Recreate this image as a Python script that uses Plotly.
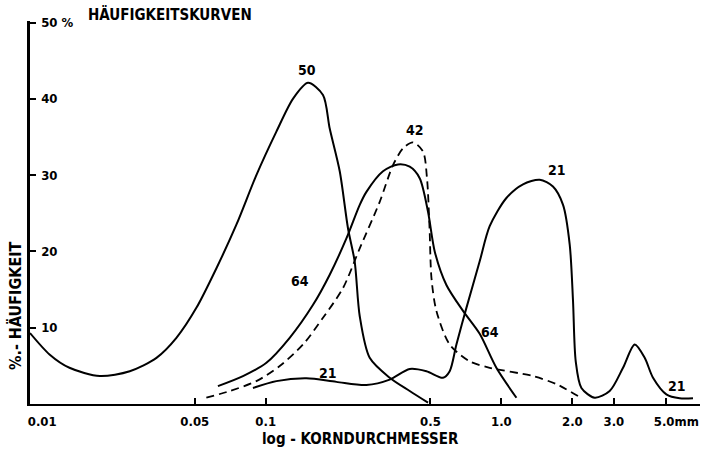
import math
import plotly.graph_objects as go

# ---- data ----
x50 = [0.0100, 0.0121, 0.0147, 0.0198, 0.0265, 0.0344, 0.0418, 0.0508, 0.0618, 0.0751,
       0.0913, 0.1110, 0.1305, 0.1512, 0.1750, 0.1869, 0.2061, 0.2235, 0.2385, 0.2506,
       0.2762, 0.3358, 0.4083, 0.4883]
y50 = [9.3, 6.5, 4.75, 3.66, 4.3, 6.05, 8.67, 12.6, 17.8, 23.5,
       30.0, 35.7, 40.0, 42.1, 40.5, 36.1, 30.5, 23.0, 18.7, 11.5,
       6.05, 3.44, 1.7, 0.17]

x64 = [0.0627, 0.0801, 0.1007, 0.1264, 0.1588, 0.1869, 0.2200, 0.2506, 0.2675, 0.3145,
       0.3641, 0.4083, 0.4501, 0.4883, 0.5212, 0.5843, 0.6874, 0.8089, 0.952, 1.158]
y64 = [2.35, 3.66, 5.4, 8.67, 13.0, 16.95, 21.7, 26.1, 27.8, 30.5,
       31.4, 31.1, 29.6, 25.2, 20.0, 15.6, 12.2, 9.2, 4.75, 0.82]

x42 = [0.056, 0.0704, 0.0913, 0.1147, 0.144, 0.175, 0.2128, 0.2506, 0.3046, 0.3467,
       0.3824, 0.4216, 0.4649, 0.4834, 0.4957, 0.505, 0.530, 0.6034, 0.7334, 0.8918,
       1.362, 1.712, 2.113]
y42 = [0.82, 1.7, 3.0, 4.97, 7.8, 11.3, 15.2, 20.4, 26.5, 31.3,
       33.5, 34.3, 33.1, 29.6, 23.0, 16.5, 12.2, 7.8, 5.6, 4.75,
       3.66, 2.6, 1.05]

x21 = [0.0883, 0.111, 0.1489, 0.1995, 0.2675, 0.3358, 0.4083, 0.4807, 0.5652, 0.6034,
       0.6444, 0.7105, 0.8089, 0.8918, 1.050, 1.235, 1.454, 1.655, 1.826, 1.949,
       2.013, 2.067, 2.185, 2.488, 2.880, 3.281, 3.678, 4.055, 4.398, 5.01,
       5.706, 6.5]
y21 = [2.1, 3.0, 3.36, 2.9, 2.5, 3.2, 4.6, 4.3, 3.44, 4.3,
       7.8, 12.6, 18.7, 23.3, 27.0, 28.8, 29.4, 28.5, 26.1, 20.9,
       13.5, 5.6, 2.1, 0.82, 1.7, 4.75, 7.8, 6.05, 3.44, 1.27,
       0.75, 0.75]

x_tickvals = [0.01, 0.05, 0.1, 0.5, 1.0, 2.0, 3.0, 5.0]
x_ticktext = ["\u00a0\u00a0\u00a0\u00a0\u00a0\u00a00.01", "0.05", "0.1", "0.5", "1.0",
              "2.0", "3.0", "\u00a0\u00a0\u00a0\u00a0\u00a05.0mm"]
y_tickvals = [10, 20, 30, 40, 50]
y_ticktext = ["10", "20", "30", "40", "50 %"]

curve_labels = ["50", "42", "64", "64", "21", "21", "21"]
label_x = [0.150, 0.4285, 0.1394, 0.8918, 0.1832, 1.717, 5.54]
label_y = [43.8, 35.9, 16.1, 9.4, 4.1, 30.7, 2.4]

FONT = "DejaVu Sans Condensed, Liberation Sans Narrow, sans-serif"
W, H = 709, 449
ML, MR, MT, MB = 30, 9, 21, 45
PW, PH = W - ML - MR, H - MT - MB
TICKLEN = 6


def px_x(p):
    return (p - ML) / PW


def px_y(p):
    return 1 - (p - MT) / PH


fig = go.Figure()
line_style = dict(color="black", width=2, shape="spline", smoothing=0.8)
fig.add_trace(go.Scatter(x=x50, y=y50, mode="lines", line=line_style, name="50"))
fig.add_trace(go.Scatter(x=x64, y=y64, mode="lines", line=line_style, name="64"))
fig.add_trace(go.Scatter(x=x21, y=y21, mode="lines", line=line_style, name="21"))
fig.add_trace(go.Scatter(x=x42, y=y42, mode="lines",
                         line=dict(color="black", width=1.8, shape="spline", smoothing=0.8,
                                   dash="8px,5px"), name="42"))

lab_font = dict(family=FONT, size=14, color="black", weight="bold")
for t, lx, ly in zip(curve_labels, label_x, label_y):
    fig.add_annotation(x=math.log10(lx), y=ly, xref="x", yref="y", text=t,
                       showarrow=False, font=lab_font)

# chart title
fig.add_annotation(x=px_x(170), y=px_y(15), xref="paper", yref="paper",
                   text="HÄUFIGKEITSKURVEN", showarrow=False, xanchor="center",
                   yanchor="middle", font=dict(family=FONT, size=15, color="black",
                                               weight="bold"))
# y axis title
fig.add_annotation(x=px_x(15), y=px_y(306), xref="paper", yref="paper",
                   text="%.- HÄUFIGKEIT", showarrow=False, textangle=-90,
                   xanchor="center", yanchor="middle",
                   font=dict(family=FONT, size=16, color="black", weight="bold"))
# x axis title
fig.add_annotation(x=px_x(360), y=px_y(439), xref="paper", yref="paper",
                   text="log - KORNDURCHMESSER", showarrow=False,
                   xanchor="center", yanchor="middle",
                   font=dict(family=FONT, size=15, color="black", weight="bold"))

tick_font = dict(family=FONT, size=13, color="black", weight="bold")
fig.update_layout(
    width=W, height=H,
    margin=dict(l=ML, r=MR, t=MT, b=MB, pad=0),
    paper_bgcolor="white", plot_bgcolor="white",
    showlegend=False,
    font=dict(family=FONT, size=13, color="black"),
    xaxis=dict(type="log", range=[-2.0, math.log10(0.01) + PW / 235.7],
               tickvals=x_tickvals, ticktext=x_ticktext,
               ticks="inside", ticklen=TICKLEN, tickwidth=1.8, tickcolor="black",
               ticklabelstandoff=4, ticklabeloverflow="allow",
               showline=True, linecolor="black", linewidth=2, showgrid=False,
               zeroline=False, automargin=False, tickfont=tick_font),
    yaxis=dict(range=[0, 50.2], tickvals=y_tickvals, ticktext=y_ticktext,
               ticks="inside", ticklen=TICKLEN, tickwidth=1.8, tickcolor="black",
               ticklabelposition="inside", ticklabelstandoff=5,
               ticklabeloverflow="allow",
               showline=True, linecolor="black", linewidth=2.5, showgrid=False,
               zeroline=False, automargin=False, tickfont=tick_font),
)

fig.write_html("out.html", config={"displayModeBar": False},
               post_script="document.body.style.margin='0';")
